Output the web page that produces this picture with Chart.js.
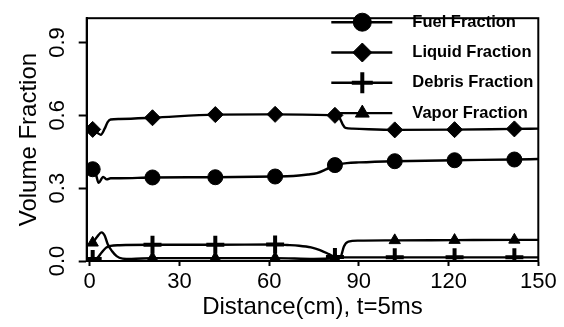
<!DOCTYPE html>
<html>
<head>
<meta charset="utf-8">
<script src="https://cdn.jsdelivr.net/npm/chart.js@4.4.1/dist/chart.umd.min.js"></script>
<style>
  html, body { margin: 0; padding: 0; background: #fff; }
</style>
</head>
<body>
<canvas id="chart" width="564" height="327"></canvas>
<script>
// axis ticks
const xTicks = [0, 30, 60, 90, 120, 150];
const yTicks = [0, 0.3, 0.6, 0.9];

// x positions where the symbols sit
const markX = [1, 21, 42, 62, 82, 102, 122, 142];

const fuelX = [0, 1, 2, 3, 4.5, 5.7, 7, 10, 21, 42, 62, 66, 70, 73, 76, 79, 82, 86, 90, 102, 122, 142, 150];
const fuelY = [0.38, 0.378, 0.36, 0.322, 0.346, 0.336, 0.341, 0.341, 0.344, 0.345, 0.348, 0.349, 0.352, 0.356, 0.362, 0.377, 0.395, 0.403, 0.406, 0.411, 0.415, 0.418, 0.42];

const liquidX = [0, 1, 2.3, 3.7, 5, 6, 7, 10, 21, 42, 62, 82, 83.5, 84.5, 85.5, 88, 102, 122, 142, 150];
const liquidY = [0.545, 0.542, 0.53, 0.52, 0.545, 0.572, 0.583, 0.585, 0.59, 0.603, 0.604, 0.6, 0.59, 0.565, 0.548, 0.545, 0.54, 0.541, 0.544, 0.545];

const debrisX = [0, 1, 2.5, 4, 5.5, 7, 10, 21, 42, 62, 66, 70, 74, 77, 80, 82, 84, 90, 102, 122, 142, 150];
const debrisY = [0.008, 0.008, 0.012, 0.035, 0.055, 0.062, 0.065, 0.067, 0.067, 0.068, 0.066, 0.063, 0.056, 0.045, 0.028, 0.016, 0.015, 0.015, 0.015, 0.015, 0.015, 0.015];

const vaporX = [0, 1, 2.5, 4, 5, 6, 7.5, 9, 11, 14, 21, 42, 62, 75, 82, 84, 85, 86.5, 90, 102, 122, 142, 150];
const vaporY = [0.07, 0.075, 0.1, 0.118, 0.105, 0.07, 0.04, 0.02, 0.01, 0.008, 0.012, 0.012, 0.012, 0.008, 0.01, 0.02, 0.06, 0.08, 0.084, 0.085, 0.086, 0.087, 0.087];

const FONT = "'Liberation Sans', Arial, sans-serif";

const toPoints = (xs, ys) => xs.map((x, i) => ({ x: x, y: ys[i] }));

const series = (label, xs, ys, style, r, bw) => ({
  label: label,
  data: toPoints(xs, ys),
  borderColor: "#000",
  backgroundColor: "#000",
  borderWidth: 2.4,
  cubicInterpolationMode: "monotone",
  pointStyle: style,
  pointRadius: (c) => (markX.includes(c.raw.x) ? r : 0),
  pointBorderWidth: bw,
  pointBorderColor: "#000",
  pointBackgroundColor: "#000",
  legendRadius: r + 1.5,
});

const whiteBg = {
  id: "whiteBg",
  beforeDraw(chart) {
    const ctx = chart.ctx;
    ctx.save();
    ctx.fillStyle = "#fff";
    ctx.fillRect(0, 0, chart.width, chart.height);
    ctx.restore();
  },
};

// box around the plot + legend with line and symbol
const frameAndLegend = {
  id: "frameAndLegend",
  afterDraw(chart) {
    const ctx = chart.ctx;
    const a = chart.chartArea;
    ctx.save();
    ctx.strokeStyle = "#000";
    ctx.lineWidth = 2;
    ctx.strokeRect(a.left, a.top, a.right - a.left, a.bottom - a.top);

    chart.data.datasets.forEach((ds, i) => {
      const y = a.top + 4 + i * 30.3;
      ctx.lineWidth = 2.4;
      ctx.beginPath();
      ctx.moveTo(a.right - 207, y);
      ctx.lineTo(a.right - 146, y);
      ctx.stroke();
      ctx.lineWidth = ds.pointBorderWidth;
      Chart.helpers.drawPoint(ctx, {
        pointStyle: ds.pointStyle,
        radius: ds.legendRadius,
        borderWidth: ds.pointBorderWidth,
        rotation: 0,
      }, a.right - 176, y);
      ctx.fillStyle = "#000";
      ctx.font = "bold 16.5px " + FONT;
      ctx.textAlign = "left";
      ctx.textBaseline = "middle";
      ctx.fillText(ds.label, a.right - 126, y);
    });
    ctx.restore();
  },
};

new Chart(document.getElementById("chart"), {
  type: "line",
  data: {
    datasets: [
      series("Fuel Fraction", fuelX, fuelY, "circle", 7.5, 1),
      series("Liquid Fraction", liquidX, liquidY, "rectRot", 8, 1),
      series("Debris Fraction", debrisX, debrisY, "cross", 9, 4),
      series("Vapor Fraction", vaporX, vaporY, "triangle", 6.5, 1),
    ],
  },
  options: {
    responsive: false,
    animation: false,
    layout: { padding: { left: 0, top: 12.5, right: 25.7, bottom: 0 } },
    plugins: {
      legend: { display: false },
      tooltip: { enabled: false },
    },
    scales: {
      x: {
        type: "linear",
        min: -1,
        max: 150,
        afterBuildTicks: (s) => { s.ticks = xTicks.map((v) => ({ value: v })); },
        afterFit: (s) => { s.height = 66; },
        grid: { drawOnChartArea: false, tickLength: 5, color: "#000", tickWidth: 2 },
        border: { color: "#000", width: 2 },
        ticks: {
          color: "#000",
          padding: 2.5,
          maxRotation: 0,
          font: { family: FONT, size: 22 },
          callback: (v) => String(v),
        },
        title: {
          display: true,
          text: "Distance(cm), t=5ms",
          color: "#000",
          padding: { top: 0, bottom: 5 },
          font: { family: FONT, size: 24 },
        },
      },
      y: {
        min: 0,
        max: 1.0,
        afterBuildTicks: (s) => { s.ticks = yTicks.map((v) => ({ value: v })); },
        afterFit: (s) => { s.width = 86.7; },
        grid: { drawOnChartArea: false, tickLength: 8, color: "#000", tickWidth: 2 },
        border: { color: "#000", width: 2 },
        ticks: {
          color: "#000",
          padding: 5,
          minRotation: 90,
          maxRotation: 90,
          crossAlign: "center",
          font: { family: FONT, size: 22 },
          callback: (v) => v.toFixed(1),
        },
        title: {
          display: true,
          text: "Volume Fraction",
          color: "#000",
          padding: { top: 15, bottom: 0 },
          font: { family: FONT, size: 24 },
        },
      },
    },
  },
  plugins: [whiteBg, frameAndLegend],
});
</script>
</body>
</html>
